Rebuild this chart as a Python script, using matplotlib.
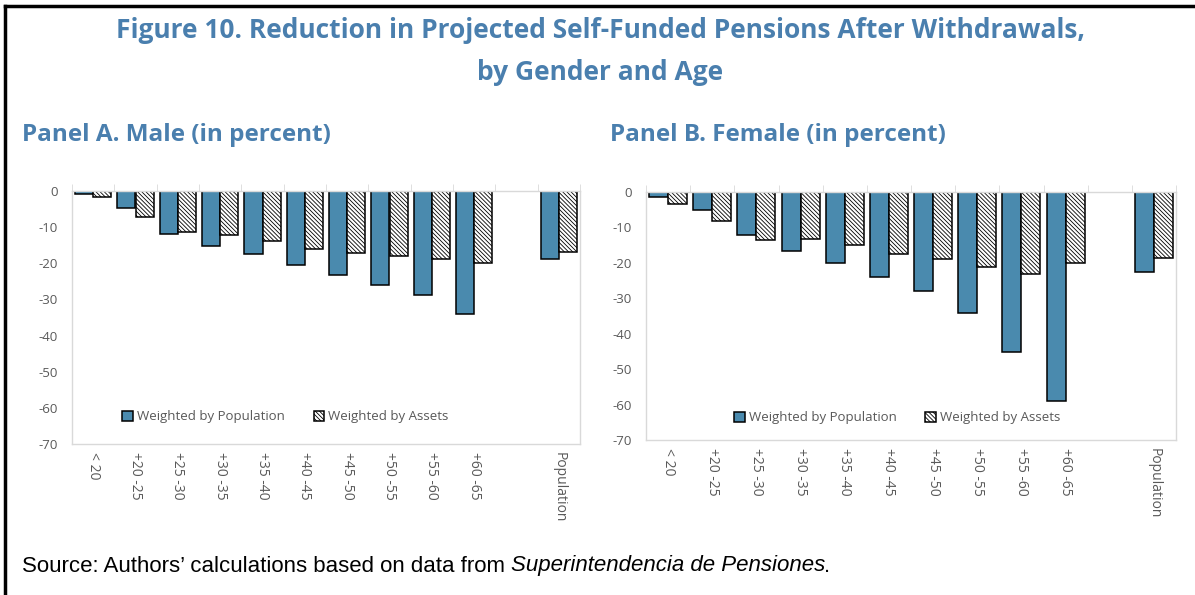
import numpy as np
import matplotlib
matplotlib.use("Agg")
import matplotlib.pyplot as plt
from matplotlib.lines import Line2D

plt.rcParams['font.family'] = ['Open Sans', 'DejaVu Sans']
plt.rcParams['axes.unicode_minus'] = False
plt.rcParams['hatch.linewidth'] = 0.6

# categories (blank slot before Population, as in the original)
categories = ["< 20", "+20 -25", "+25 -30", "+30 -35", "+35 -40", "+40 -45",
              "+45 -50", "+50 -55", "+55 -60", "+60 -65", "", "Population"]

male_pop = [-0.7, -4.8, -12.0, -15.1, -17.5, -20.5, -23.2, -26.0, -28.9, -34.0, np.nan, -18.8]
male_assets = [-1.6, -7.1, -11.3, -12.3, -13.8, -16.1, -17.2, -18.0, -18.8, -19.8, np.nan, -16.9]

female_pop = [-1.4, -5.0, -12.2, -16.6, -20.1, -24.1, -27.9, -34.2, -45.2, -59.0, np.nan, -22.5]
female_assets = [-3.4, -8.2, -13.5, -13.3, -15.1, -17.6, -18.9, -21.2, -23.2, -20.0, np.nan, -18.7]

yticks = [0, -10, -20, -30, -40, -50, -60, -70]

blue = "#4A8AAE"
title_blue = "#4A7FAE"
grey_txt = "#595959"
grid_grey = "#D9D9D9"

W, H = 1195, 595
fig = plt.figure(figsize=(W / 100, H / 100), dpi=100)


def px_axes(x0, x1, y0, y1):
    return fig.add_axes([x0 / W, 1 - y1 / H, (x1 - x0) / W, (y1 - y0) / H])


def draw_panel(ax, pop, assets, leg_x, leg_y):
    x = np.arange(len(categories))
    w = 0.43
    ax.bar(x - w / 2, pop, w, color=blue, edgecolor="black", linewidth=1.1,
           label="Weighted by Population")
    ax.bar(x + w / 2, assets, w, color="white", edgecolor="black", linewidth=1.1,
           hatch="\\\\\\\\\\\\\\\\", label="Weighted by Assets")
    ax.set_xlim(-0.5, len(categories) - 0.5)
    ax.set_ylim(-70, 0)
    ax.set_yticks(yticks)
    ax.set_yticklabels([str(v) for v in yticks])
    ax.tick_params(axis="y", length=0, labelsize=9.5, labelcolor=grey_txt, pad=10)
    ax.set_xticks(x)
    ax.set_xticklabels(categories, rotation=270, fontsize=10, color=grey_txt)
    ax.tick_params(axis="x", which="major", length=0, pad=6)
    ax.set_xticks(np.arange(-0.5, len(categories)), minor=True)
    ax.tick_params(axis="x", which="minor", top=True, bottom=False, length=5,
                   color=grid_grey, direction="out")
    for s in ax.spines.values():
        s.set_color(grid_grey)
        s.set_linewidth(1.0)
    ax.legend(loc="center", bbox_to_anchor=(leg_x, leg_y), ncol=2, frameon=False,
              fontsize=9.5, labelcolor=grey_txt, handlelength=0.8, handleheight=0.8,
              handletextpad=0.3, columnspacing=2.2)


axA = px_axes(72, 580, 191, 444)
draw_panel(axA, male_pop, male_assets, 0.42, 0.107)
axB = px_axes(646, 1176, 192, 440)
draw_panel(axB, female_pop, female_assets, 0.474, 0.089)

# titles
fig.text(600 / W, 1 - 31 / H, "Figure 10. Reduction in Projected Self-Funded Pensions After Withdrawals,",
         ha="center", va="center", fontsize=19, fontweight="bold", color=title_blue)
fig.text(600 / W, 1 - 72 / H, "by Gender and Age",
         ha="center", va="center", fontsize=19, fontweight="bold", color=title_blue)
fig.text(22 / W, 1 - 135 / H, "Panel A. Male (in percent)",
         ha="left", va="center", fontsize=17.5, fontweight="bold", color=title_blue)
fig.text(610 / W, 1 - 135 / H, "Panel B. Female (in percent)",
         ha="left", va="center", fontsize=17.5, fontweight="bold", color=title_blue)

# source line
src_font = ["Liberation Sans Narrow", "Liberation Sans", "DejaVu Sans"]
src = fig.text(22 / W, 1 - 566 / H, "Source: Authors\u2019 calculations based on data from ",
               ha="left", va="center", fontsize=16, color="black", family=src_font)
src_it = fig.text(0, 0, "Superintendencia de Pensiones", fontsize=16, style="italic",
                  family=src_font)
fig.canvas.draw()
bb = src.get_window_extent().transformed(fig.transFigure.inverted())
src_it.set_position((bb.x1, 1 - 566 / H))
src_it.set_va("center")
bb2 = src_it.get_window_extent().transformed(fig.transFigure.inverted())
fig.text(bb.x1 + (bb2.x1 - bb2.x0) - 1 / W, 1 - 566 / H, ".", ha="left", va="center",
         fontsize=16, family=src_font)

# frame lines (top and left)
fig.add_artist(Line2D([5 / W, 1], [1 - 6 / H, 1 - 6 / H], color="black", linewidth=2.5,
                      transform=fig.transFigure))
fig.add_artist(Line2D([5 / W, 5 / W], [1 - 6 / H, 0], color="black", linewidth=2.5,
                      transform=fig.transFigure))

fig.savefig("out.png", dpi=100)
